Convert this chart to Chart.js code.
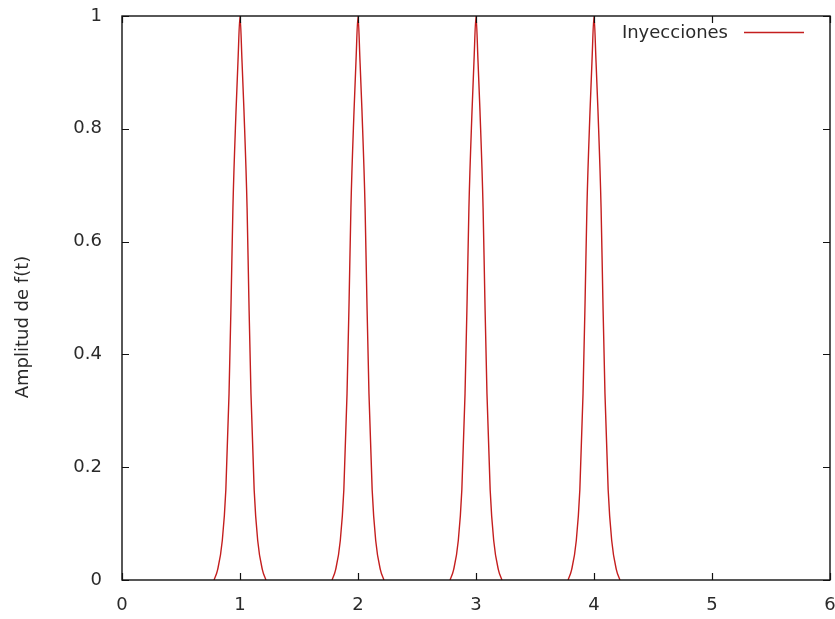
<!DOCTYPE html>
<html><head><meta charset="utf-8">
<script src="https://cdn.jsdelivr.net/npm/chart.js@4/dist/chart.umd.min.js"></script>
<style>html,body{margin:0;padding:0;background:#fff;overflow:hidden;}</style>
</head><body>
<canvas id="c" width="835" height="619"></canvas>
<script>
const seriesLabel = "Inyecciones";
const yTitle = "Amplitud de f(t)";
const xTicks = [0, 1, 2, 3, 4, 5, 6];
const yTicks = [0, 0.2, 0.4, 0.6, 0.8, 1];
const xTickLabels = ["0", "1", "2", "3", "4", "5", "6"];
const yTickLabels = ["0", "0.2", "0.4", "0.6", "0.8", "1"];

// time values (t); null rows separate the pulses
const tValues = [
  0.78, 0.81, 0.85, 0.88, 0.907, 0.925, 0.94, 0.966, 0.983, 1.0, 1.017, 1.034, 1.06, 1.075, 1.093, 1.12, 1.15, 1.19, 1.22,
  1.5,
  1.78, 1.81, 1.85, 1.88, 1.907, 1.925, 1.94, 1.966, 1.983, 2.0, 2.017, 2.034, 2.06, 2.075, 2.093, 2.12, 2.15, 2.19, 2.22,
  2.5,
  2.78, 2.81, 2.85, 2.88, 2.907, 2.925, 2.94, 2.966, 2.983, 3.0, 3.017, 3.034, 3.06, 3.075, 3.093, 3.12, 3.15, 3.19, 3.22,
  3.5,
  3.78, 3.81, 3.85, 3.88, 3.907, 3.925, 3.94, 3.966, 3.983, 4.0, 4.017, 4.034, 4.06, 4.075, 4.093, 4.12, 4.15, 4.19, 4.22
];
// amplitude f(t) at each t
const fValues = [
  0, 0.018, 0.07, 0.16, 0.33, 0.5, 0.66, 0.83, 0.92, 1, 0.92, 0.83, 0.66, 0.5, 0.33, 0.16, 0.07, 0.018, 0,
  null,
  0, 0.018, 0.07, 0.16, 0.33, 0.5, 0.66, 0.83, 0.92, 1, 0.92, 0.83, 0.66, 0.5, 0.33, 0.16, 0.07, 0.018, 0,
  null,
  0, 0.018, 0.07, 0.16, 0.33, 0.5, 0.66, 0.83, 0.92, 1, 0.92, 0.83, 0.66, 0.5, 0.33, 0.16, 0.07, 0.018, 0,
  null,
  0, 0.018, 0.07, 0.16, 0.33, 0.5, 0.66, 0.83, 0.92, 1, 0.92, 0.83, 0.66, 0.5, 0.33, 0.16, 0.07, 0.018, 0
];

const FONT = 'DejaVu Sans';
const TEXT = '#2a2a2a';
const LINE = '#c41e1e';

function zeroPad(s) { s.paddingLeft = 0; s.paddingRight = 0; s.paddingTop = 0; s.paddingBottom = 0; }

const framePlugin = {
  id: 'frame',
  afterDatasetsDraw(chart) {
    const ctx = chart.ctx;
    const a = chart.chartArea;
    const xs = chart.scales.x, ys = chart.scales.y;
    ctx.save();
    ctx.strokeStyle = '#111';
    ctx.lineWidth = 1.4;
    ctx.strokeRect(a.left, a.top, a.right - a.left, a.bottom - a.top);
    const tl = 7;
    ctx.beginPath();
    xTicks.forEach(v => {
      const px = Math.round(xs.getPixelForValue(v)) + 0.5;
      ctx.moveTo(px, a.bottom); ctx.lineTo(px, a.bottom - tl);
      ctx.moveTo(px, a.top); ctx.lineTo(px, a.top + tl);
    });
    yTicks.forEach(v => {
      const py = Math.round(ys.getPixelForValue(v)) + 0.5;
      ctx.moveTo(a.left, py); ctx.lineTo(a.left + tl, py);
      ctx.moveTo(a.right, py); ctx.lineTo(a.right - tl, py);
    });
    ctx.lineWidth = 1.2;
    ctx.stroke();

    // y axis title
    ctx.fillStyle = TEXT;
    ctx.font = '18px "' + FONT + '"';
    ctx.translate(28, 327);
    ctx.rotate(-Math.PI / 2);
    ctx.textAlign = 'center';
    ctx.textBaseline = 'alphabetic';
    ctx.fillText(yTitle, 0, 0);
    ctx.setTransform(1, 0, 0, 1, 0, 0);

    // key
    const ds = chart.data.datasets[0];
    ctx.textAlign = 'right';
    ctx.textBaseline = 'middle';
    ctx.fillText(ds.label, 728, 33);
    ctx.strokeStyle = LINE;
    ctx.lineWidth = 1.4;
    ctx.beginPath();
    ctx.moveTo(744, 32.5); ctx.lineTo(804, 32.5);
    ctx.stroke();
    ctx.restore();
  }
};

new Chart(document.getElementById('c'), {
  type: 'line',
  data: {
    datasets: [{
      label: seriesLabel,
      data: tValues.map((t, i) => ({ x: t, y: fValues[i] })),
      borderColor: LINE,
      borderWidth: 1.4,
      pointRadius: 0,
      fill: false,
      spanGaps: false,
      cubicInterpolationMode: 'monotone'
    }]
  },
  options: {
    responsive: false,
    animation: false,
    devicePixelRatio: 1,
    layout: { padding: { top: 16, right: 5, left: 0, bottom: 0 } },
    plugins: { legend: { display: false }, tooltip: { enabled: false } },
    scales: {
      x: {
        type: 'linear', min: 0, max: 6,
        afterBuildTicks: s => { s.ticks = xTicks.map(v => ({ value: v })); },
        afterFit: s => { s.height = 39; zeroPad(s); },
        grid: { display: false, drawTicks: false },
        border: { display: false },
        ticks: { color: TEXT, font: { family: FONT, size: 18 }, padding: 15, maxRotation: 0,
                 callback: (v, i) => xTickLabels[i] }
      },
      y: {
        type: 'linear', min: 0, max: 1,
        afterBuildTicks: s => { s.ticks = yTicks.map(v => ({ value: v })); },
        afterFit: s => { s.width = 122; zeroPad(s); },
        grid: { display: false, drawTicks: false },
        border: { display: false },
        ticks: { color: TEXT, font: { family: FONT, size: 18 }, padding: 20,
                 callback: (v, i) => yTickLabels[i] }
      }
    }
  },
  plugins: [framePlugin]
});
</script>
</body></html>
